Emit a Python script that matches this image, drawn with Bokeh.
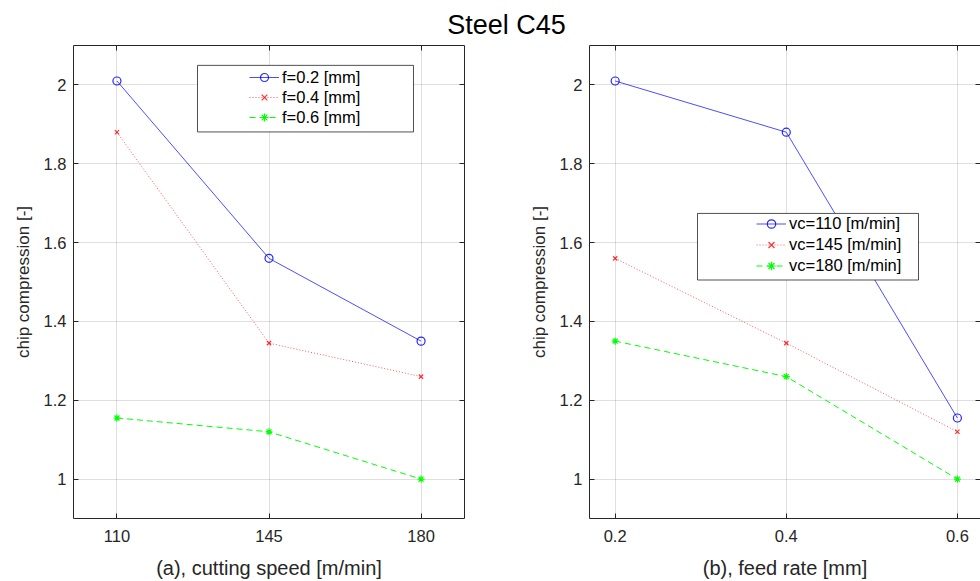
from bokeh.plotting import figure
from bokeh.models import (Range1d, LinearAxis, FixedTicker, NumeralTickFormatter,
                          Legend, LegendItem, BoxAnnotation, Label)
from bokeh.layouts import column, row
from bokeh.embed import file_html
from bokeh.resources import INLINE

# ---------------- data ----------------
cutting_speed = [110, 145, 180]          # m/min
feed_rate = [0.2, 0.4, 0.6]              # mm
cc_f02 = [2.01, 1.56, 1.35]
cc_f04 = [1.88, 1.345, 1.26]
cc_f06 = [1.155, 1.12, 1.00]
cc_vc110 = [2.01, 1.88, 1.155]
cc_vc145 = [1.56, 1.345, 1.12]
cc_vc180 = [1.35, 1.26, 1.00]
y_ticks = [1.0, 1.2, 1.4, 1.6, 1.8, 2.0]
labels_a = ["f=0.2 [mm]", "f=0.4 [mm]", "f=0.6 [mm]"]
labels_b = ["vc=110 [m/min]", "vc=145 [m/min]", "vc=180 [m/min]"]
title_text = "Steel C45"
xlabel_a = "(a), cutting speed [m/min]"
xlabel_b = "(b), feed rate [mm]"
ylabel = "chip compression [-]"

FONT = "Liberation Sans"
AX = "#262626"
STYLES = [
    dict(color="#0000ff", dash="solid", marker="circle", size=8, alpha=0.7),
    dict(color="#ff0000", dash="1 2", marker="x", size=6, alpha=0.65),
    dict(color="#00ff00", dash="6 4", marker="asterisk", size=7, alpha=1.0),
]

TITLE_H = 42
FRAME_TOP = 45      # page px
FRAME_H = 476
FRAME_W = 391
Y_RANGE = (0.9, 2.1)


def style_axis(ax, ticks, fmt=None, labels=True):
    ax.ticker = FixedTicker(ticks=ticks)
    if fmt is not None:
        ax.formatter = fmt
    ax.axis_line_color = AX
    ax.axis_line_width = 1
    ax.major_tick_line_color = AX
    ax.major_tick_in = 5
    ax.major_tick_out = 0
    ax.minor_tick_line_color = None
    ax.major_label_text_font = FONT
    ax.major_label_text_color = AX
    if labels:
        ax.major_label_text_font_size = "16.5px"
    else:
        ax.major_label_text_color = None
        ax.major_label_text_font_size = "0px"
        ax.major_label_standoff = 0
    ax.axis_label_text_font = FONT
    ax.axis_label_text_font_style = "normal"
    ax.axis_label_text_color = AX


def make_panel(xs, series, labels, x_range, xticks, xfmt, xlabel, width,
               b_left, b_right, frame_left_page, legend_xy, row_h, box_px,
               right_line):
    top_border = FRAME_TOP - TITLE_H
    p = figure(width=width, height=581 - TITLE_H, x_range=Range1d(*x_range),
               y_range=Range1d(*Y_RANGE), toolbar_location=None,
               output_backend="svg", min_border_left=b_left,
               min_border_right=b_right, min_border_top=top_border,
               min_border_bottom=60)
    p.outline_line_color = None
    p.background_fill_color = "white"
    p.border_fill_color = "white"

    style_axis(p.xaxis[0], xticks, xfmt)
    p.xaxis[0].axis_label = xlabel
    p.xaxis[0].axis_label_text_font_size = "20px"
    p.xaxis[0].major_label_standoff = 11
    p.xaxis[0].axis_label_standoff = 12
    style_axis(p.yaxis[0], y_ticks, NumeralTickFormatter(format="0.[0]"))
    p.yaxis[0].axis_label = ylabel
    p.yaxis[0].axis_label_text_font_size = "17px"
    p.yaxis[0].major_label_standoff = 7
    p.yaxis[0].axis_label_standoff = 8

    top = LinearAxis()
    style_axis(top, xticks, labels=False)
    p.add_layout(top, "above")
    rt = LinearAxis()
    style_axis(rt, y_ticks, labels=False)
    if not right_line:
        rt.axis_line_color = None
    p.add_layout(rt, "right")

    p.xgrid.ticker = FixedTicker(ticks=xticks)
    p.ygrid.ticker = FixedTicker(ticks=y_ticks)
    p.grid.grid_line_color = AX
    p.grid.grid_line_alpha = 0.15
    p.grid.grid_line_width = 1

    items = []
    for ys, lab, st in zip(series, labels, STYLES):
        ln = p.line(xs, ys, line_color=st["color"], line_dash=st["dash"],
                    line_width=1, line_alpha=st["alpha"])
        sc = p.scatter(xs, ys, marker=st["marker"], size=st["size"],
                       line_color=st["color"], fill_color=None, line_width=1.2,
                       line_alpha=min(1.0, st["alpha"] + 0.15))
        items.append(LegendItem(label=lab, renderers=[ln, sc]))

    # legend frame box (white, drawn above data)
    def px_x(px):
        return x_range[0] + (px - frame_left_page) / FRAME_W * (x_range[1] - x_range[0])

    def px_y(py):
        return Y_RANGE[1] - (py - FRAME_TOP) / FRAME_H * (Y_RANGE[1] - Y_RANGE[0])

    l, r, t, b = box_px
    box = BoxAnnotation(left=px_x(l), right=px_x(r), top=px_y(t), bottom=px_y(b),
                        fill_color="white", fill_alpha=1.0, line_color=AX,
                        line_alpha=0.8, line_width=1, editable=False)
    p.add_layout(box)

    leg = Legend(items=items, location=legend_xy, padding=0, margin=0,
                 spacing=0, border_line_color=None, background_fill_alpha=0,
                 glyph_width=30, glyph_height=row_h, label_height=row_h,
                 label_standoff=3, label_text_font=FONT,
                 label_text_font_size="16.5px", label_text_color="#000000")
    p.add_layout(leg, "center")
    return p


p1 = make_panel(cutting_speed, [cc_f02, cc_f04, cc_f06], labels_a,
                (100, 190), cutting_speed, None, xlabel_a, 520,
                73, 56, 73, (176, 391), 20, (197, 413, 65, 132), True)
p2 = make_panel(feed_rate, [cc_vc110, cc_vc145, cc_vc180], labels_b,
                (0.17, 0.627), feed_rate, NumeralTickFormatter(format="0.0"),
                xlabel_b, 460, 69, 0, 589, (167, 242), 21, (697, 918, 214, 281), False)

# title strip
p0 = figure(width=980, height=TITLE_H, x_range=Range1d(0, 980),
            y_range=Range1d(0, TITLE_H), toolbar_location=None,
            output_backend="svg", min_border=0,
            x_axis_type=None, y_axis_type=None)
p0.outline_line_color = None
p0.grid.visible = False
p0.add_layout(Label(x=506, y=TITLE_H - 24, text=title_text, text_align="center",
                    text_baseline="middle", text_font=FONT,
                    text_font_size="27px", text_color="#000000"))

layout = column(p0, row(p1, p2))
open("out.html", "w").write(file_html(layout, INLINE))
